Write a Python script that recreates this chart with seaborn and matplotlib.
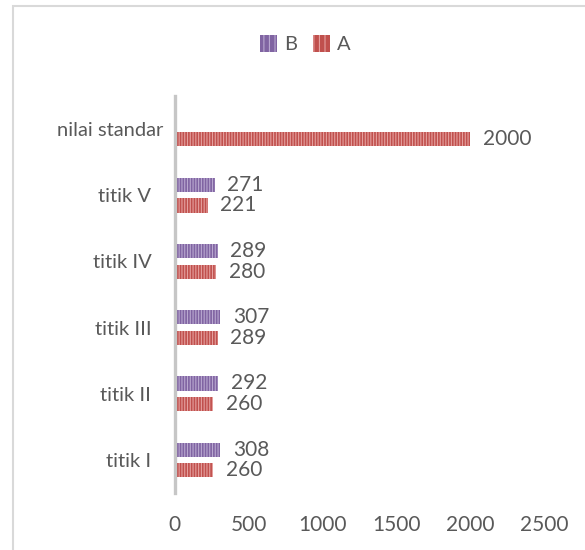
import pandas as pd
import numpy as np
import matplotlib.pyplot as plt
import matplotlib.transforms as mtransforms
from matplotlib.patches import Rectangle
import seaborn as sns

# Data
categories = ["nilai standar", "titik V", "titik IV", "titik III", "titik II", "titik I"]
values_b = [np.nan, 271, 289, 307, 292, 308]
values_a = [2000, 221, 280, 289, 260, 260]
series = ["B", "A"]
x_ticks = [0, 500, 1000, 1500, 2000, 2500]

df = pd.DataFrame({
    "lokasi": categories * 2,
    "seri": ["B"] * len(categories) + ["A"] * len(categories),
    "nilai": values_b + values_a,
})

colors = {"B": "#8064A2", "A": "#C0504D"}
stripes = {"B": "#B9A8D0", "A": "#E5A09E"}
text_col = "#595959"

sns.set_style("white")
plt.rcParams["font.family"] = ["Lato", "DejaVu Sans"]
plt.rcParams["hatch.linewidth"] = 0.8

fig = plt.figure(figsize=(5.85, 5.5), dpi=100)
ax = fig.add_axes([0.299, 0.1036, 0.631, 0.722])

sns.barplot(data=df, y="lokasi", x="nilai", hue="seri", order=categories,
            hue_order=series, orient="h", errorbar=None, width=0.62,
            palette=colors, ax=ax, legend=True)

# thinner bars with a small gap, striped like the original
for cont, s in zip(ax.containers, series):
    for p in cont.patches:
        c = p.get_y() + p.get_height() / 2
        h = 0.215
        p.set_y(c - h / 2)
        p.set_height(h)
        p.set_facecolor(colors[s])
        p.set_edgecolor(stripes[s])
        p.set_hatch("||||||")
        p.set_linewidth(0)
    ax.bar_label(cont, padding=9, fontsize=15, color=text_col,
                 labels=["" if np.isnan(v) else f"{int(v)}" for v in cont.datavalues])

ax.set_xlim(0, 2500)
ax.set_ylim(5.5, -0.5)
ax.set_xticks(x_ticks)
ax.set_xlabel("")
ax.set_ylabel("")
ax.tick_params(axis="x", length=0, pad=16, labelsize=15, labelcolor=text_col)
ax.tick_params(axis="y", length=0, pad=17, labelsize=14.5, labelcolor=text_col)
for side in ["top", "right", "bottom"]:
    ax.spines[side].set_visible(False)
ax.spines["left"].set_color("#C6C6C6")
ax.spines["left"].set_linewidth(2.4)

# first label sits a bit further right in the original
lbl = ax.get_yticklabels()[0]
lbl.set_transform(lbl.get_transform() + mtransforms.ScaledTranslation(12 / 100, 0, fig.dpi_scale_trans))

handles, labels = ax.get_legend_handles_labels()
ax.get_legend().remove()
for h, s in zip(handles, series):
    h.set_facecolor(colors[s])
    h.set_edgecolor(stripes[s])
    h.set_hatch("|||")
    h.set_linewidth(0)
fig.legend(handles, labels, loc="center", bbox_to_anchor=(0.522, 0.92), ncol=2,
           frameon=False, fontsize=14.5, labelcolor=text_col, handlelength=0.85,
           handleheight=0.9, handletextpad=0.35, columnspacing=0.8)

# chart frame
fig.patches.append(Rectangle((13 / 585, -0.1), 1.2, 1 - 6 / 550 + 0.1,
                             transform=fig.transFigure, fill=False,
                             edgecolor="#D9D9D9", linewidth=1.5))

fig.savefig("out.png", dpi=100)
